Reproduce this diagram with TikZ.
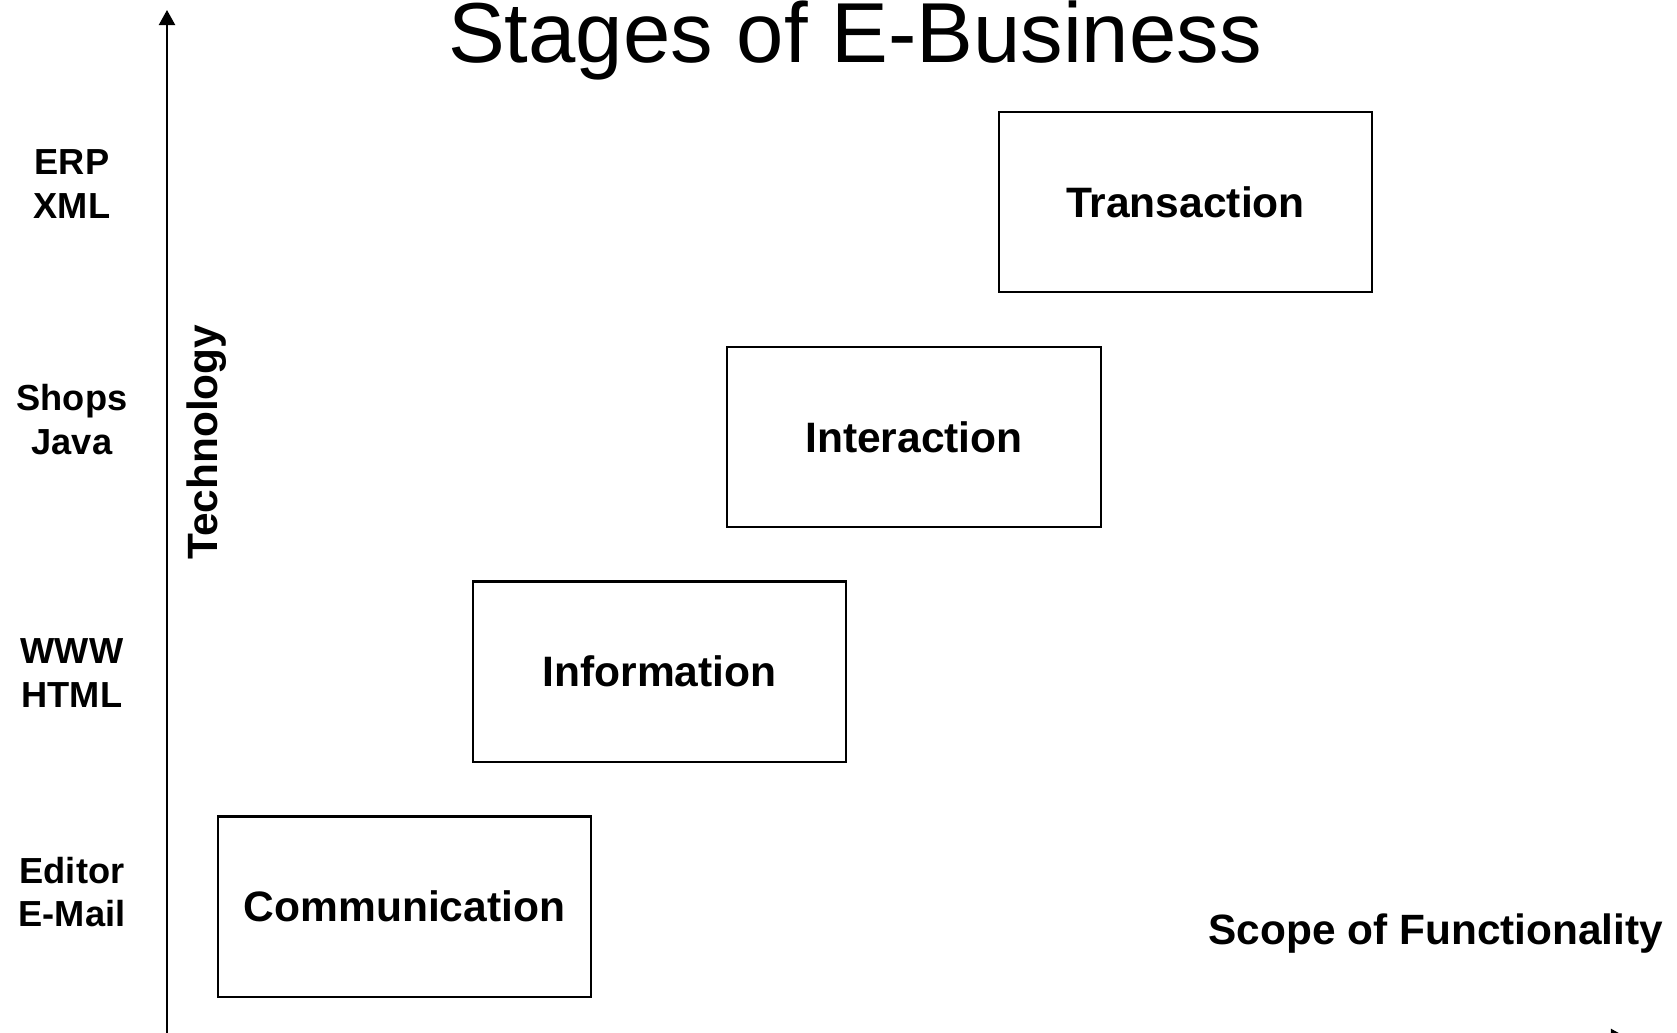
\documentclass[tikz,border=0pt]{standalone}
\usepackage{fontspec}
\setmainfont{Liberation Sans}
\usepackage{tikz}
\usetikzlibrary{positioning}
\usetikzlibrary{arrows.meta}

\tikzset{
    stagebox/.style={draw, line width=0.6pt, minimum width=3.73cm, minimum height=1.8cm,
        font=\fontsize{12.1}{14}\selectfont\bfseries},
    techlabel/.style={align=center, font=\fontsize{10.3}{12.5}\selectfont\bfseries},
    axislabel/.style={font=\fontsize{12.05}{14}\selectfont\bfseries},
    axis/.style={line width=0.6pt, -{Triangle[length=4.3pt,width=4.6pt]}}
}

\begin{document}
\begin{tikzpicture}[x=0.01cm, y=-0.01cm]
            % page frame, pixel coordinates
            \clip (0,0) rectangle (1677,1032);
            \fill[white] (0,0) rectangle (1677,1032);
            % axes
            \coordinate (origin) at (167,1037);
            \coordinate (ytop) at (167,10);
            \coordinate (xend) at (1626,1037);
            \draw[axis] (origin) -- (ytop);
            \draw[axis] (origin) -- (xend);
            % title
            \node[anchor=base, font=\fontsize{24.2}{28}\selectfont] (title) at (855,62) {Stages of E-Business};
            % stages
            \node[stagebox] (comm) at (404.5,906.5) {Communication};
            \node[stagebox] (info) at (659.5,671.5) {Information};
            \node[stagebox] (inter) at (914,437) {Interaction};
            \node[stagebox] (trans) at (1185.5,202) {Transaction};
            % technology labels
            \node[techlabel] (erp) at (72,184) {ERP\\XML};
            \node[techlabel] (shops) at (72,420) {Shops\\Java};
            \node[techlabel] (www) at (72,673) {WWW\\HTML};
            \node[techlabel] (editor) at (72,892) {Editor\\E-Mail};
            % axis labels
            \node[axislabel, rotate=90] (tech) at (207,442) {Technology};
            \node[axislabel, anchor=base west, inner sep=0pt] (scope) at (1208,944) {Scope of Functionality};
\end{tikzpicture}
\end{document}
